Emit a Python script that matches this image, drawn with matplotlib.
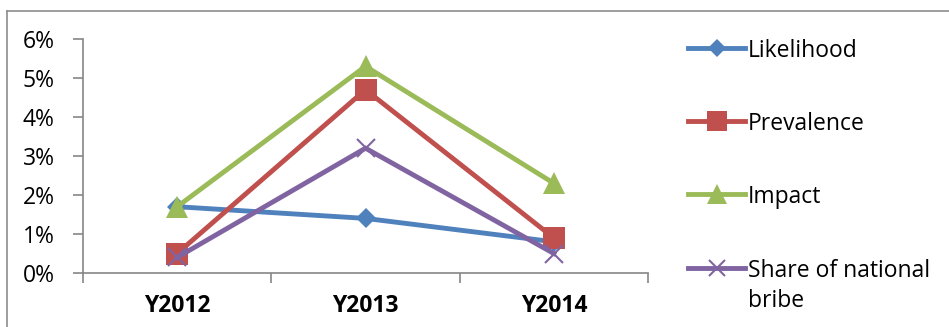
import matplotlib
matplotlib.use("Agg")
import matplotlib.pyplot as plt
from matplotlib.lines import Line2D
from matplotlib.ticker import FuncFormatter, FixedLocator

categories = ["Y2012", "Y2013", "Y2014"]
series_names = ["Likelihood", "Prevalence", "Impact", "Share of national\nbribe"]
likelihood = [0.017, 0.014, 0.008]
prevalence = [0.005, 0.047, 0.009]
impact = [0.017, 0.053, 0.023]
share_bribe = [0.004, 0.032, 0.005]
y_ticks = [0, 0.01, 0.02, 0.03, 0.04, 0.05, 0.06]

colors = ["#4F81BD", "#C0504D", "#9BBB59", "#8064A2"]
markers = ["D", "s", "^", "x"]
msizes = [10, 15.5, 16, 13]
series = [likelihood, prevalence, impact, share_bribe]

plt.rcParams['font.family'] = ['Open Sans', 'DejaVu Sans']
FS = 16.5
LW = 3.5

W, H = 949, 327
fig = plt.figure(figsize=(W / 100, H / 100), dpi=100)
ax = fig.add_axes([83 / W, (H - 273) / H, (648 - 83) / W, (273 - 39) / H])

x = list(range(len(categories)))
for i in [0, 1, 2, 3]:
    mew = 1.5 if markers[i] == "x" else 0
    ax.plot(x, series[i], color=colors[i], lw=LW, marker=markers[i],
            markersize=msizes[i], markerfacecolor=colors[i],
            markeredgecolor=colors[i], markeredgewidth=mew,
            zorder=3 + i, clip_on=False, solid_joinstyle='miter')

ax.set_xlim(-0.5, 2.5)
ax.set_ylim(0, 0.06)
ax.set_yticks(y_ticks)
ax.yaxis.set_major_formatter(FuncFormatter(lambda v, p: f"{v*100:.0f}%"))
ax.set_xticks(x)
ax.set_xticklabels(categories, fontweight="bold", fontsize=FS)
ax.xaxis.set_minor_locator(FixedLocator([-0.5, 0.5, 1.5, 2.5]))
ax.tick_params(axis="x", which="major", length=0, pad=15)
ax.tick_params(axis="x", which="minor", length=7, width=1.2, color="#868686")
ax.tick_params(axis="y", length=7, width=1.2, color="#868686", labelsize=FS, pad=13.5)
for s in ["top", "right"]:
    ax.spines[s].set_visible(False)
for s in ["left", "bottom"]:
    ax.spines[s].set_color("#868686")
    ax.spines[s].set_linewidth(1.2)

# outer chart border (top and left visible)
fig.add_artist(Line2D([7 / W, 7 / W], [0, 1 - 11 / H], color="#8c8c8c", lw=1.2,
                      transform=fig.transFigure))
fig.add_artist(Line2D([7 / W, 1], [1 - 11 / H, 1 - 11 / H], color="#8c8c8c", lw=1.2,
                      transform=fig.transFigure))

# legend
rows_y = [48, 121, 194, 268]
line_gap = 30
for i in range(4):
    yf = 1 - rows_y[i] / H
    fig.add_artist(Line2D([688 / W, 745 / W], [yf, yf], color=colors[i], lw=LW,
                          transform=fig.transFigure))
    mew = 1.5 if markers[i] == "x" else 0
    fig.add_artist(Line2D([716.5 / W], [yf], color=colors[i], marker=markers[i],
                          markersize=msizes[i] * 0.9, markerfacecolor=colors[i],
                          markeredgecolor=colors[i], markeredgewidth=mew,
                          linestyle="none", transform=fig.transFigure))
    for k, part in enumerate(series_names[i].split("\n")):
        fig.text(748 / W, 1 - (rows_y[i] + k * line_gap) / H, part, fontsize=FS,
                 va="center_baseline", ha="left")

fig.savefig("out.png", dpi=100)
